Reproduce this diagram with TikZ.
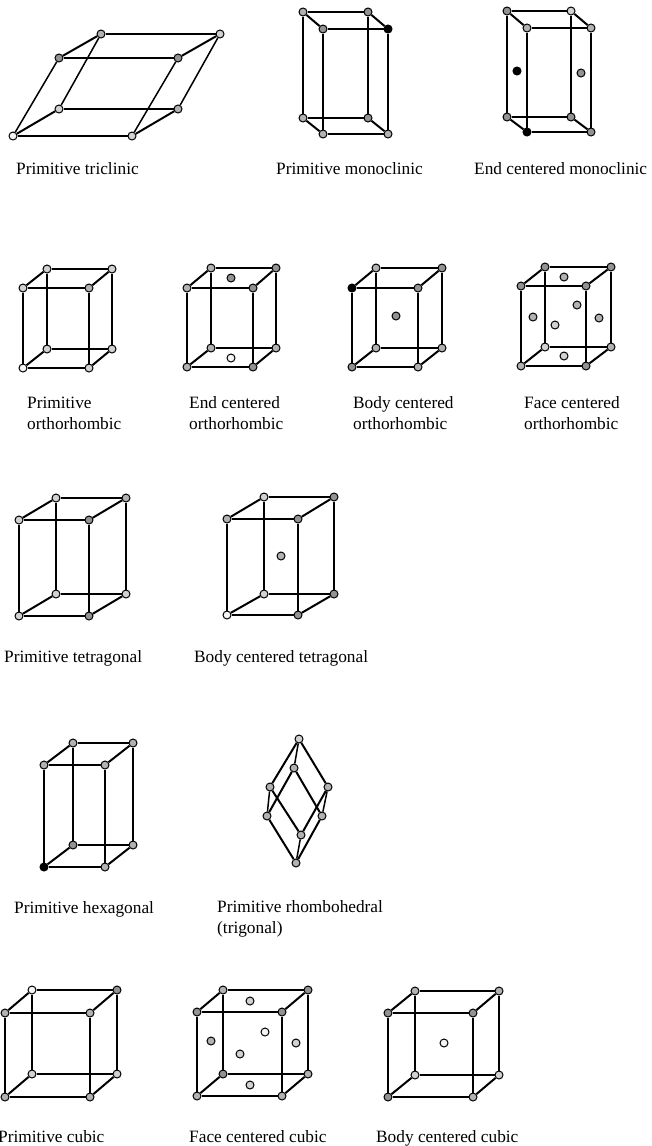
\documentclass[tikz,border=0pt]{standalone}
\usepackage{fontspec}
\setmainfont{Liberation Serif}
\newcommand{\celledges}[1]{%
  \draw[bond] (#11) -- (#12); \draw[bond] (#13) -- (#14);
  \draw[bond] (#15) -- (#16); \draw[bond] (#17) -- (#18);
  \draw[bond] (#11) -- (#15); \draw[bond] (#12) -- (#16);
  \draw[bond] (#13) -- (#17); \draw[bond] (#14) -- (#18);
  \draw[slant] (#11) -- (#13); \draw[slant] (#12) -- (#14);
  \draw[slant] (#15) -- (#17); \draw[slant] (#16) -- (#18);
}
\tikzset{
  atom/.style={circle, draw=black, line width=1pt, minimum size=8pt, inner sep=0pt},
  atomw/.style={atom, fill=gray!8},
  atoml/.style={atom, fill=gray!35},
  atomm/.style={atom, fill=gray!60},
  atomd/.style={atom, fill=gray!85},
  atomk/.style={atom, fill=black},
  bond/.style={draw=black, line width=1.5pt},
  slant/.style={draw=black, line width=2pt},
  caption/.style={anchor=base west, inner sep=0pt, align=left, font=\fontsize{17.3}{21}\selectfont},
}

\begin{document}
\begin{tikzpicture}[x=1pt, y=-1pt]
		\useasboundingbox (0,0) rectangle (651,1146);

		% TOP ROW: TRICLINIC AND MONOCLINIC
		% Primitive triclinic
		\node[atomw] (ta1) at (13,136) {}; \node[atoml] (ta2) at (132,136) {}; \node[atoml] (ta3) at (59,109) {}; \node[atomm] (ta4) at (178,109) {};
		\node[atomd] (ta5) at (59,58) {}; \node[atomd] (ta6) at (178,58) {}; \node[atomm] (ta7) at (101,34) {}; \node[atoml] (ta8) at (220,34) {};
		\celledges{ta}
		\node[caption] (tal) at (16,174) {Primitive triclinic};

		% Primitive monoclinic
		\node[atomm] (mp1) at (323,134) {}; \node[atomm] (mp2) at (388,134) {}; \node[atomm] (mp3) at (303,118) {}; \node[atomd] (mp4) at (368,118) {};
		\node[atomd] (mp5) at (323,29) {}; \node[atomk] (mp6) at (388,29) {}; \node[atomm] (mp7) at (303,12) {}; \node[atomd] (mp8) at (368,12) {};
		\celledges{mp}
		\node[caption] (mpl) at (276,174) {Primitive monoclinic};

		% End centered monoclinic
		\node[atomk] (me1) at (527,132) {}; \node[atomd] (me2) at (591,132) {}; \node[atomd] (me3) at (507,117) {}; \node[atomd] (me4) at (571,117) {};
		\node[atomm] (me5) at (527,28) {}; \node[atomm] (me6) at (591,28) {}; \node[atomd] (me7) at (507,11) {}; \node[atoml] (me8) at (571,11) {};
		\celledges{me}
		\node[atomk] (mea) at (517,71) {}; \node[atomd] (meb) at (581,73) {};
		\node[caption] (mel) at (474,174) {End centered monoclinic};

		% SECOND ROW: ORTHORHOMBIC
		% Primitive
		\node[atomw] (op1) at (23,368) {}; \node[atoml] (op2) at (89,368) {}; \node[atoml] (op3) at (47,349) {}; \node[atoml] (op4) at (112,349) {};
		\node[atoml] (op5) at (23,288) {}; \node[atomm] (op6) at (89,288) {}; \node[atoml] (op7) at (47,269) {}; \node[atoml] (op8) at (112,269) {};
		\celledges{op}
		\node[caption] (opl) at (27,429) {Primitive\\orthorhombic};

		% End centered
		\node[atomm] (oe1) at (187,367) {}; \node[atomd] (oe2) at (253,367) {}; \node[atomm] (oe3) at (211,348) {}; \node[atomm] (oe4) at (276,348) {};
		\node[atomm] (oe5) at (187,288) {}; \node[atomd] (oe6) at (253,288) {}; \node[atomm] (oe7) at (211,268) {}; \node[atomd] (oe8) at (276,268) {};
		\celledges{oe}
		\node[atomd] (oea) at (231,278) {}; \node[atomw] (oeb) at (231,358) {};
		\node[caption] (oel) at (189,429) {End centered\\orthorhombic};

		% Body centered
		\node[atomd] (ob1) at (352,367) {}; \node[atomm] (ob2) at (418,367) {}; \node[atomm] (ob3) at (376,348) {}; \node[atomm] (ob4) at (442,348) {};
		\node[atomk] (ob5) at (352,288) {}; \node[atomd] (ob6) at (418,288) {}; \node[atomm] (ob7) at (376,268) {}; \node[atomd] (ob8) at (442,268) {};
		\celledges{ob}
		\node[atomd] (oba) at (396,316) {};
		\node[caption] (obl) at (353,429) {Body centered\\orthorhombic};

		% Face centered
		\node[atomm] (of1) at (521,366) {}; \node[atomd] (of2) at (586,366) {}; \node[atoml] (of3) at (545,347) {}; \node[atomm] (of4) at (611,347) {};
		\node[atomd] (of5) at (521,286) {}; \node[atomd] (of6) at (586,286) {}; \node[atomd] (of7) at (545,267) {}; \node[atomd] (of8) at (611,267) {};
		\celledges{of}
		\node[atomm] (ofa) at (564,277) {}; \node[atoml] (ofb) at (564,356) {}; \node[atomm] (ofc) at (533,317) {};
		\node[atomm] (ofd) at (599,318) {}; \node[atomm] (ofe) at (577,305) {}; \node[atoml] (off) at (555,325) {};
		\node[caption] (ofl) at (524,429) {Face centered\\orthorhombic};

		% THIRD ROW: TETRAGONAL
		% Primitive
		\node[atoml] (gp1) at (19,616) {}; \node[atomd] (gp2) at (89,616) {}; \node[atoml] (gp3) at (56,594) {}; \node[atoml] (gp4) at (126,594) {};
		\node[atoml] (gp5) at (19,520) {}; \node[atomd] (gp6) at (89,520) {}; \node[atoml] (gp7) at (56,498) {}; \node[atomm] (gp8) at (126,498) {};
		\celledges{gp}
		\node[caption] (gpl) at (4,662) {Primitive tetragonal};

		% Body centered
		\node[atomw] (gb1) at (227,615) {}; \node[atomd] (gb2) at (298,615) {}; \node[atoml] (gb3) at (264,594) {}; \node[atomd] (gb4) at (334,594) {};
		\node[atomm] (gb5) at (227,519) {}; \node[atomd] (gb6) at (298,519) {}; \node[atoml] (gb7) at (264,497) {}; \node[atomd] (gb8) at (334,497) {};
		\celledges{gb}
		\node[atomm] (gba) at (281,556) {};
		\node[caption] (gbl) at (194,662) {Body centered tetragonal};

		% FOURTH ROW: HEXAGONAL AND RHOMBOHEDRAL
		% Primitive hexagonal
		\node[atomk] (hp1) at (44,867) {}; \node[atomm] (hp2) at (105,867) {}; \node[atomd] (hp3) at (73,845) {}; \node[atomm] (hp4) at (133,845) {};
		\node[atomm] (hp5) at (44,765) {}; \node[atomm] (hp6) at (105,765) {}; \node[atomm] (hp7) at (73,743) {}; \node[atomm] (hp8) at (133,743) {};
		\celledges{hp}
		\node[caption] (hpl) at (14,913) {Primitive hexagonal};

		% Primitive rhombohedral
		\node[atoml] (rh1) at (299,739) {}; \node[atomm] (rh2) at (294,768) {}; \node[atomm] (rh3) at (270,787) {}; \node[atomm] (rh4) at (328,787) {};
		\node[atomm] (rh5) at (267,816) {}; \node[atomm] (rh6) at (322,816) {}; \node[atomm] (rh7) at (301,835) {}; \node[atomm] (rh8) at (296,863) {};
		\draw[slant] (rh1) -- (rh3); \draw[slant] (rh1) -- (rh4); \draw[bond] (rh1) -- (rh2);
		\draw[slant] (rh2) -- (rh5); \draw[slant] (rh2) -- (rh6); \draw[slant] (rh3) -- (rh7);
		\draw[slant] (rh4) -- (rh7); \draw[bond] (rh3) -- (rh5); \draw[bond] (rh4) -- (rh6);
		\draw[slant] (rh5) -- (rh8); \draw[slant] (rh6) -- (rh8); \draw[bond] (rh7) -- (rh8);
		\node[caption] (rhl) at (217,933) {Primitive rhombohedral\\(trigonal)};

		% BOTTOM ROW: CUBIC
		% Primitive
		\node[atomm] (cp1) at (5,1097) {}; \node[atomm] (cp2) at (90,1097) {}; \node[atoml] (cp3) at (32,1074) {}; \node[atoml] (cp4) at (117,1074) {};
		\node[atomm] (cp5) at (5,1013) {}; \node[atomm] (cp6) at (90,1013) {}; \node[atomw] (cp7) at (32,990) {}; \node[atomd] (cp8) at (117,990) {};
		\celledges{cp}
		\node[caption] (cpl) at (-2,1142) {Primitive cubic};

		% Face centered
		\node[atomm] (cf1) at (197,1096) {}; \node[atomm] (cf2) at (282,1096) {}; \node[atomd] (cf3) at (223,1074) {}; \node[atomm] (cf4) at (308,1074) {};
		\node[atomd] (cf5) at (197,1012) {}; \node[atomd] (cf6) at (282,1012) {}; \node[atomm] (cf7) at (223,990) {}; \node[atomd] (cf8) at (308,990) {};
		\celledges{cf}
		\node[atoml] (cfa) at (250,1001) {}; \node[atoml] (cfb) at (250,1085) {}; \node[atomm] (cfc) at (211,1041) {};
		\node[atoml] (cfd) at (296,1043) {}; \node[atomw] (cfe) at (265,1032) {}; \node[atoml] (cff) at (240,1054) {};
		\node[caption] (cfl) at (189,1142) {Face centered cubic};

		% Body centered
		\node[atomd] (cb1) at (388,1097) {}; \node[atomm] (cb2) at (473,1097) {}; \node[atoml] (cb3) at (415,1075) {}; \node[atoml] (cb4) at (499,1075) {};
		\node[atomd] (cb5) at (388,1013) {}; \node[atomd] (cb6) at (473,1013) {}; \node[atomm] (cb7) at (415,991) {}; \node[atomm] (cb8) at (499,991) {};
		\celledges{cb}
		\node[atomw] (cba) at (444,1043) {};
		\node[caption] (cbl) at (376,1142) {Body centered cubic};

	\end{tikzpicture}
\end{document}
